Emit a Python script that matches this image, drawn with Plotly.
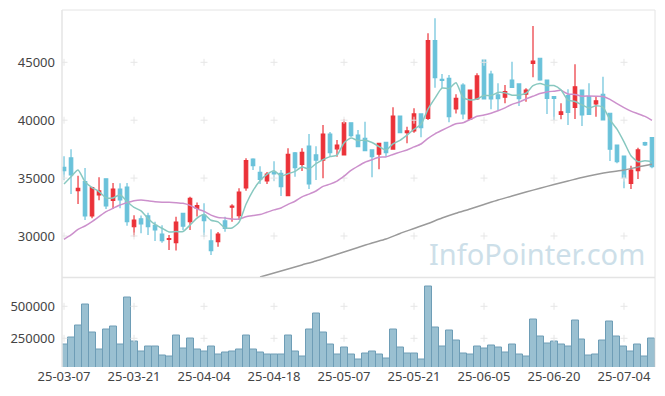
import pandas as pd
import plotly.graph_objects as go

# ---- trading days (KRX) ----
krx_closed = ["2025-05-01", "2025-05-05", "2025-05-06", "2025-06-03", "2025-06-06"]
dates = [d for d in pd.bdate_range("2025-03-07", "2025-07-10") if d.strftime("%Y-%m-%d") not in krx_closed]
date_labels = [d.strftime("%y-%m-%d") for d in dates]

# ---- OHLC ----
opens = [35930, 36740, 33910, 34690, 31730, 33540, 34940, 33070, 34060, 34230,
         30800, 31490, 31730, 30910, 30170, 29700, 29420, 31960, 31230, 32390,
         31810, 29570, 29510, 31300, 32480, 31750, 34150, 36650, 35500, 34750,
         35500, 35410, 33480, 37170, 36190, 37770, 37000, 36560, 38810, 37530,
         37000, 39780, 38720, 38440, 37430, 37060, 38090, 37510, 40360, 38920,
         39070, 40540, 40160, 46870, 43520, 43620, 40970, 43040, 40080, 41830,
         45200, 43990, 42180, 41980, 43470, 43130, 42260, 44910, 45350, 43470,
         42030, 40510, 42120, 41110, 42610, 42030, 41400, 42240, 40600, 37860,
         36910, 34550, 35640, 38060, 38490]
highs = [36880, 37490, 35210, 35870, 34260, 35070, 34990, 34580, 34550, 34580,
         31790, 31770, 32010, 31230, 30920, 30090, 31670, 31990, 33390, 32890,
         32820, 30580, 30350, 31670, 32740, 34120, 36710, 36710, 36020, 35530,
         36450, 35700, 37570, 37250, 37570, 38810, 37750, 39590, 38980, 38290,
         40060, 39800, 39150, 39870, 37450, 38030, 38120, 41110, 40380, 39440,
         41030, 40560, 47500, 48800, 43990, 43900, 42240, 43190, 42620, 44050,
         45220, 44280, 43190, 43040, 45050, 43150, 42760, 48130, 45370, 43490,
         42050, 41460, 42670, 44830, 42630, 43190, 42030, 43760, 40620, 37880,
         36930, 36070, 37630, 38140, 38510]
lows = [34840, 33630, 32760, 31380, 31530, 33080, 32330, 32330, 32390, 30890,
        29940, 30230, 30090, 29570, 29420, 28790, 28750, 30520, 30520, 31680,
        29910, 28360, 29080, 30370, 31230, 31380, 33910, 35700, 34490, 34490,
        34750, 33450, 33450, 35120, 35610, 34060, 34840, 34980, 36820, 36850,
        36990, 38550, 37690, 37340, 35070, 35760, 36850, 37470, 38890, 38010,
        38920, 38520, 40020, 42810, 42780, 39820, 40580, 40080, 40020, 41740,
        41790, 40940, 40880, 41460, 42820, 41230, 41600, 43710, 43410, 40540,
        40020, 40080, 39590, 40100, 39500, 40450, 40300, 39980, 36480, 36280,
        34120, 34060, 34920, 37770, 35850]
closes = [35640, 35270, 34120, 31730, 34170, 33890, 32590, 34060, 33110, 31230,
          31380, 31040, 30800, 30520, 29590, 29780, 31210, 30860, 33260, 32620,
          31320, 28730, 30170, 30650, 32590, 33800, 36500, 36070, 34880, 35350,
          35360, 34260, 37060, 35900, 37230, 34490, 36560, 38810, 37190, 37860,
          39780, 38660, 37710, 37370, 36850, 38010, 37190, 40360, 38920, 39070,
          40540, 39350, 46870, 43670, 43430, 40300, 41890, 40540, 42610, 43820,
          41830, 41830, 41860, 42460, 42840, 41860, 42610, 45110, 43470, 41890,
          41890, 40730, 40680, 42890, 40450, 40510, 41680, 40020, 37490, 36420,
          35030, 35700, 37430, 37860, 35980]
volumes = [197900, 252600, 351600, 515600, 296900, 158900, 320300, 343700, 197900, 570300,
           226600, 143200, 182300, 187500, 112000, 104200, 273400, 166700, 250000, 158900,
           148400, 187500, 119800, 135400, 148400, 158900, 273400, 158900, 140600, 119800,
           125000, 125000, 273400, 148400, 104200, 320300, 445300, 296900, 203100, 125000,
           174500, 125000, 85950, 132800, 148400, 125000, 93800, 320300, 174500, 132800,
           132800, 85950, 656200, 335900, 182300, 312500, 234400, 132800, 125000, 182300,
           166700, 195300, 174500, 140600, 203100, 125000, 109400, 398400, 265600, 210900,
           226600, 203100, 182300, 390600, 242200, 117200, 125000, 234400, 382800, 265600,
           187500, 148400, 203100, 109400, 250000]

# moving averages: early values (needing earlier history)
ma5_lead = [34490, 35120, 35700, 34690]
ma20_lead = [29710, 30090, 30580, 30860, 31240, 31670, 32100, 32390, 32680, 32880,
             33050, 33110, 33050, 32960, 32910, 32910, 32880, 32820, 32640]
# long moving average (grey), every second session from #28
ma120_idx = list(range(28, 85, 2))
ma120_vals = [26460, 26800, 27150, 27500, 27840, 28230, 28620, 29010, 29400, 29740,
              30220, 30650, 31080, 31550, 31960, 32330, 32720, 33110, 33450, 33800,
              34120, 34450, 34750, 35050, 35310, 35530, 35700, 35960, 36190]

main_ticks = [30000, 35000, 40000, 45000]
vol_ticks = [250000, 500000]

n = len(closes)
idx = list(range(n))
cs = pd.Series(closes, dtype=float)
ma5 = ma5_lead + cs.rolling(5).mean().tolist()[4:]
ma20 = ma20_lead + cs.rolling(20).mean().tolist()[19:]

tick_idx = list(range(0, n, 10))
tick_text = [date_labels[i] for i in tick_idx]

UP = "#eb3239"
DOWN = "#6ac2da"
GRID = "#e6e6e6"
FONT = "Noto Sans"

fig = go.Figure()

# grid crosses
fig.add_trace(go.Scatter(
    x=[i for i in tick_idx for _ in main_ticks], y=[v for _ in tick_idx for v in main_ticks],
    mode="markers", marker=dict(symbol="cross-thin", size=5, line=dict(color=GRID, width=1)),
    xaxis="x", yaxis="y", hoverinfo="skip", showlegend=False))
fig.add_trace(go.Scatter(
    x=[i for i in tick_idx for _ in vol_ticks], y=[v for _ in tick_idx for v in vol_ticks],
    mode="markers", marker=dict(symbol="cross-thin", size=5, line=dict(color=GRID, width=1)),
    xaxis="x2", yaxis="y2", hoverinfo="skip", showlegend=False))

fig.add_trace(go.Candlestick(
    x=idx, open=opens, high=highs, low=lows, close=closes,
    increasing=dict(line=dict(color=UP, width=1.2), fillcolor=UP),
    decreasing=dict(line=dict(color=DOWN, width=1.2), fillcolor=DOWN),
    whiskerwidth=0, xaxis="x", yaxis="y", showlegend=False, hoverinfo="skip"))

fig.add_trace(go.Scatter(x=ma120_idx, y=ma120_vals, mode="lines",
                         line=dict(color="#9a9a9a", width=1.5, shape="spline", smoothing=0.6),
                         xaxis="x", yaxis="y", showlegend=False, hoverinfo="skip"))
fig.add_trace(go.Scatter(x=idx, y=ma20, mode="lines",
                         line=dict(color="#cc90cc", width=1.5, shape="spline", smoothing=0.6),
                         xaxis="x", yaxis="y", showlegend=False, hoverinfo="skip"))
fig.add_trace(go.Scatter(x=idx, y=ma5, mode="lines",
                         line=dict(color="#88c8c0", width=1.5, shape="spline", smoothing=0.6),
                         xaxis="x", yaxis="y", showlegend=False, hoverinfo="skip"))

fig.add_trace(go.Bar(x=idx, y=volumes, width=1.0,
                     marker=dict(color="rgba(140,183,203,0.88)", line=dict(color="#6e9db6", width=1)),
                     xaxis="x2", yaxis="y2", showlegend=False, hoverinfo="skip"))

x_range = [-0.29, 84.43]
split = 0.2507
fig.update_layout(
    width=665, height=396,
    margin=dict(l=62, r=10, t=10, b=29),
    paper_bgcolor="white", plot_bgcolor="white",
    font=dict(family=FONT, size=13, color="#444"),
    bargap=0,
    xaxis=dict(domain=[0, 1], anchor="y", range=x_range, showgrid=False, zeroline=False,
               showticklabels=False, rangeslider=dict(visible=False), automargin=False),
    yaxis=dict(domain=[split, 1], anchor="x", range=[26415, 49517], tickvals=main_ticks,
               ticktext=[str(v) for v in main_ticks], automargin=False,
               showgrid=False, zeroline=False, ticks="", ticklabelstandoff=6),
    xaxis2=dict(domain=[0, 1], anchor="y2", range=x_range, tickvals=tick_idx, ticktext=tick_text,
                showgrid=False, zeroline=False, ticks="", tickangle=0, automargin=False),
    yaxis2=dict(domain=[0, split], anchor="x2", range=[25800, 725000], tickvals=vol_ticks,
                ticktext=[str(v) for v in vol_ticks], automargin=False,
                showgrid=False, zeroline=False, ticks="", ticklabelstandoff=6),
    annotations=[dict(text="InfoPointer.com", xref="paper", yref="paper", x=0.9865, y=0.317,
                      xanchor="right", yanchor="middle", showarrow=False,
                      font=dict(family=FONT, size=29, color="#cddfe9"))],
    shapes=[
        dict(type="line", xref="paper", yref="paper", x0=0, x1=1, y0=1, y1=1, line=dict(color="#e4e4e4", width=1)),
        dict(type="line", xref="paper", yref="paper", x0=0, x1=1, y0=split, y1=split, line=dict(color="#e4e4e4", width=1.5)),
        dict(type="line", xref="paper", yref="paper", x0=0, x1=0, y0=0, y1=1, line=dict(color="#e4e4e4", width=1.5)),
        dict(type="line", xref="paper", yref="paper", x0=1, x1=1, y0=0, y1=1, line=dict(color="#e4e4e4", width=1)),
    ],
)

fig.write_html("out.html", config={"displayModeBar": False},
               post_script="document.body.style.margin='0';")
